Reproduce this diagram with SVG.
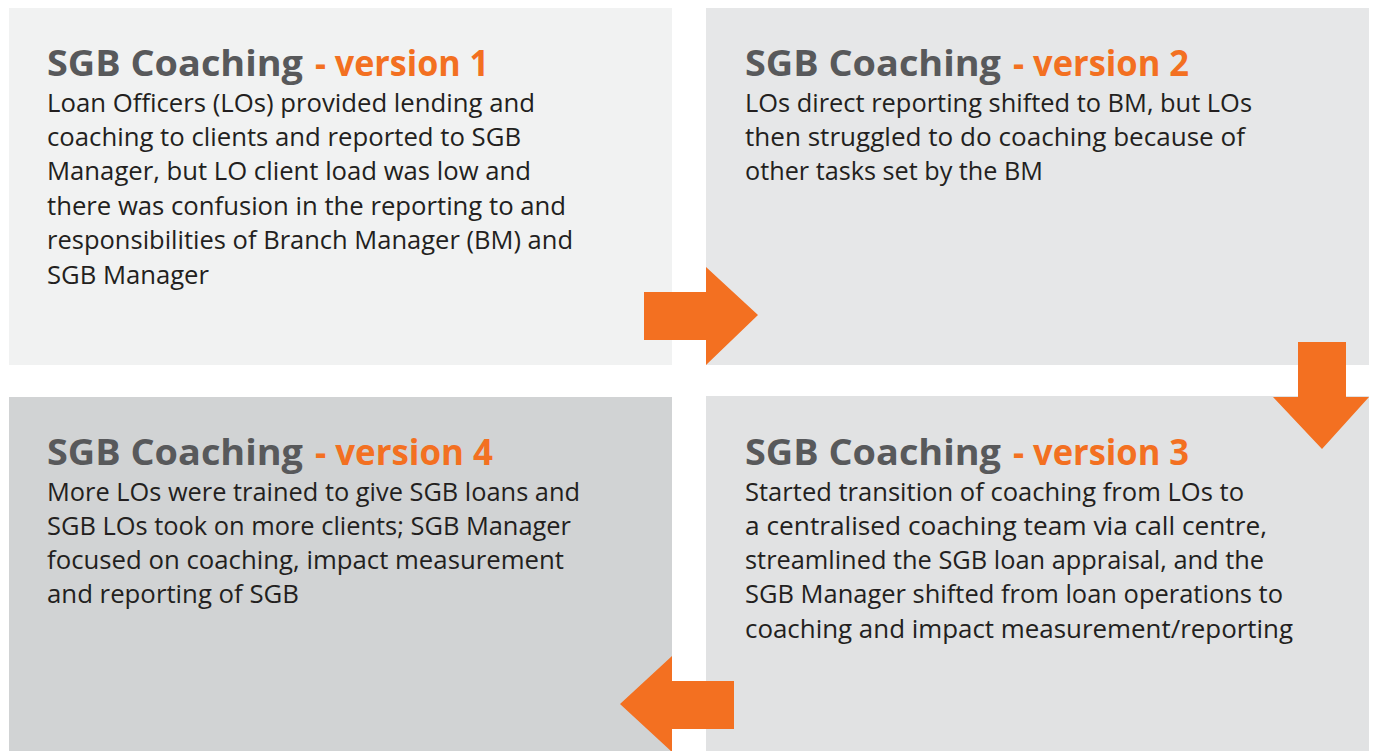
<svg xmlns="http://www.w3.org/2000/svg" width="1376" height="751" viewBox="0 0 1376 751">
<style>
.t{font-family:"Open Sans","Liberation Sans",sans-serif;font-weight:700;font-size:35px}
.g{fill:#58595b}
.o{fill:#f37021}
.b{font-family:"Open Sans","Liberation Sans",sans-serif;font-size:26px;fill:#231f20}
.arr{fill:#f37021}
</style>
<rect width="1376" height="751" fill="#ffffff"/>
<g id="node-v1">
<rect x="9" y="8" width="663" height="357" fill="#f1f2f2"/>
<text class="t g" x="47" y="76" textLength="256" lengthAdjust="spacingAndGlyphs">SGB Coaching</text>
<text class="t o" x="315" y="76" textLength="174" lengthAdjust="spacingAndGlyphs">- version 1</text>
<text class="b" x="47" y="112" textLength="488" lengthAdjust="spacingAndGlyphs">Loan Officers (LOs) provided lending and</text>
<text class="b" x="47" y="146" textLength="474" lengthAdjust="spacingAndGlyphs">coaching to clients and reported to SGB</text>
<text class="b" x="47" y="180" textLength="484" lengthAdjust="spacingAndGlyphs">Manager, but LO client load was low and</text>
<text class="b" x="47" y="215" textLength="519" lengthAdjust="spacingAndGlyphs">there was confusion in the reporting to and</text>
<text class="b" x="47" y="249" textLength="526" lengthAdjust="spacingAndGlyphs">responsibilities of Branch Manager (BM) and</text>
<text class="b" x="47" y="284" textLength="162" lengthAdjust="spacingAndGlyphs">SGB Manager</text>
</g>
<g id="node-v2">
<rect x="706" y="8" width="663" height="357" fill="#e6e7e8"/>
<text class="t g" x="745" y="76" textLength="256" lengthAdjust="spacingAndGlyphs">SGB Coaching</text>
<text class="t o" x="1013" y="76" textLength="176" lengthAdjust="spacingAndGlyphs">- version 2</text>
<text class="b" x="745" y="112" textLength="507" lengthAdjust="spacingAndGlyphs">LOs direct reporting shifted to BM, but LOs</text>
<text class="b" x="745" y="146" textLength="500" lengthAdjust="spacingAndGlyphs">then struggled to do coaching because of</text>
<text class="b" x="745" y="180" textLength="298" lengthAdjust="spacingAndGlyphs">other tasks set by the BM</text>
</g>
<g id="node-v3">
<rect x="706" y="396" width="663" height="355" fill="#e1e2e3"/>
<text class="t g" x="745" y="465" textLength="256" lengthAdjust="spacingAndGlyphs">SGB Coaching</text>
<text class="t o" x="1013" y="465" textLength="176" lengthAdjust="spacingAndGlyphs">- version 3</text>
<text class="b" x="745" y="501" textLength="499" lengthAdjust="spacingAndGlyphs">Started transition of coaching from LOs to</text>
<text class="b" x="745" y="535" textLength="522" lengthAdjust="spacingAndGlyphs">a centralised coaching team via call centre,</text>
<text class="b" x="745" y="569" textLength="519" lengthAdjust="spacingAndGlyphs">streamlined the SGB loan appraisal, and the</text>
<text class="b" x="745" y="603" textLength="538" lengthAdjust="spacingAndGlyphs">SGB Manager shifted from loan operations to</text>
<text class="b" x="745" y="638" textLength="548" lengthAdjust="spacingAndGlyphs">coaching and impact measurement/reporting</text>
</g>
<g id="node-v4">
<rect x="9" y="397" width="663" height="354" fill="#d1d3d4"/>
<text class="t g" x="47" y="465" textLength="256" lengthAdjust="spacingAndGlyphs">SGB Coaching</text>
<text class="t o" x="315" y="465" textLength="178" lengthAdjust="spacingAndGlyphs">- version 4</text>
<text class="b" x="47" y="501" textLength="533" lengthAdjust="spacingAndGlyphs">More LOs were trained to give SGB loans and</text>
<text class="b" x="47" y="535" textLength="524" lengthAdjust="spacingAndGlyphs">SGB LOs took on more clients; SGB Manager</text>
<text class="b" x="47" y="569" textLength="517" lengthAdjust="spacingAndGlyphs">focused on coaching, impact measurement</text>
<text class="b" x="47" y="603" textLength="252" lengthAdjust="spacingAndGlyphs">and reporting of SGB</text>
</g>
<g id="connectors">
<polygon class="arr" points="644,292 706,292 706,267 758,315 706,365 706,340 644,340"/>
<polygon class="arr" points="1298,342 1346,342 1346,397 1369,397 1322,449 1273,397 1298,397"/>
<polygon class="arr" points="734,681 672,681 672,656 620,704 672,752 672,729 734,729"/>
</g>
</svg>
